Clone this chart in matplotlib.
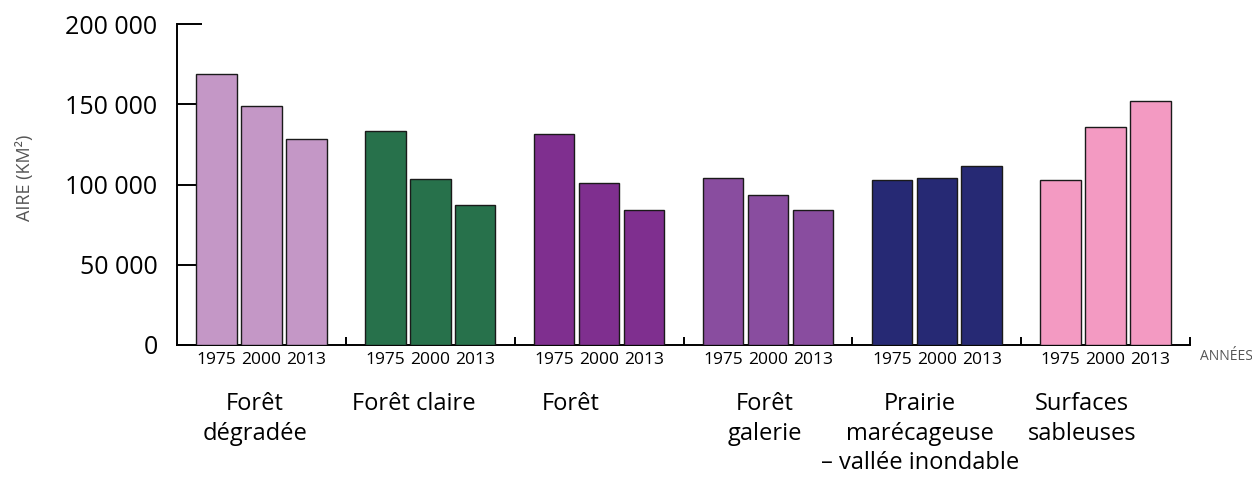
import numpy as np
import matplotlib
matplotlib.use("Agg")
import matplotlib.pyplot as plt
import matplotlib.transforms as mtransforms
from matplotlib.ticker import FuncFormatter

plt.rcParams["font.family"] = ["Open Sans", "DejaVu Sans"]

# Land cover areas (km²) per class for each survey year
categories = ["Forêt\ndégradée", "Forêt claire", "Forêt", "Forêt\ngalerie",
              "Prairie\nmarécageuse\n– vallée inondable", "Surfaces\nsableuses"]
years = ["1975", "2000", "2013"]
area_1975 = [168600, 133400, 131200, 104200, 102500, 102500]
area_2000 = [148600, 103200, 101100, 93600, 104200, 136100]
area_2013 = [128500, 87200, 83900, 84300, 111300, 152100]
colors = ["#C497C6", "#27714B", "#7F2F8F", "#894D9F", "#262974", "#F39AC2"]

# small shift of each class label relative to its group centre
label_shift = [-0.04, -0.10, -0.17, -0.02, -0.10, -0.14]

fig = plt.figure(figsize=(12.52, 4.8), dpi=100)
ax = fig.add_axes([0.1414, 0.28125, 0.8091, 0.66875])

values = np.array([area_1975, area_2000, area_2013])
step = 0.266
width = 0.24
offsets = [-step, 0, step]

for i, off in enumerate(offsets):
    x = np.arange(len(categories)) + off
    ax.bar(x, values[i], width=width, color=colors,
           edgecolor="#1a1a1a", linewidth=1.0, zorder=3)

ax.set_xlim(-0.5, len(categories) - 0.5)
ax.set_ylim(0, 200000)
ax.set_axisbelow(True)

for side in ["top", "right"]:
    ax.spines[side].set_visible(False)
for side in ["left", "bottom"]:
    ax.spines[side].set_linewidth(1.4)

# y axis
ax.set_yticks([0, 50000, 100000, 150000, 200000])
ax.yaxis.set_major_formatter(FuncFormatter(lambda v, p: f"{v:,.0f}".replace(",", " ")))
ax.tick_params(axis="y", direction="in", length=18, width=1.4, pad=14,
               labelsize=18, colors="black")
ax.set_ylabel("AIRE (KM²)", fontsize=13, color="#555555")
ax.yaxis.set_label_coords(-0.141, 0.52)

# x axis: years under each bar, small separators between classes
xpos = [g + off for g in range(len(categories)) for off in offsets]
ax.set_xticks(xpos)
ax.set_xticklabels(years * len(categories))
ax.tick_params(axis="x", which="major", length=0, pad=5, labelsize=12.5)
ax.set_xticks(np.arange(len(categories)) + 0.5, minor=True)
ax.tick_params(axis="x", which="minor", direction="in", length=6, width=1.4)

ax.text(1.0 + 10 / 1013, -12 / 321, "ANNÉES", transform=ax.transAxes,
        fontsize=10, color="#555555", ha="left", va="center")

# class names below the year labels
name_trans = mtransforms.blended_transform_factory(ax.transData, fig.transFigure)
for g, (name, shift) in enumerate(zip(categories, label_shift)):
    ax.text(g + shift, 0.183, name, transform=name_trans,
            ha="center", va="top", fontsize=17, linespacing=1.3,
            multialignment="center")

fig.savefig("out.png", dpi=100)
